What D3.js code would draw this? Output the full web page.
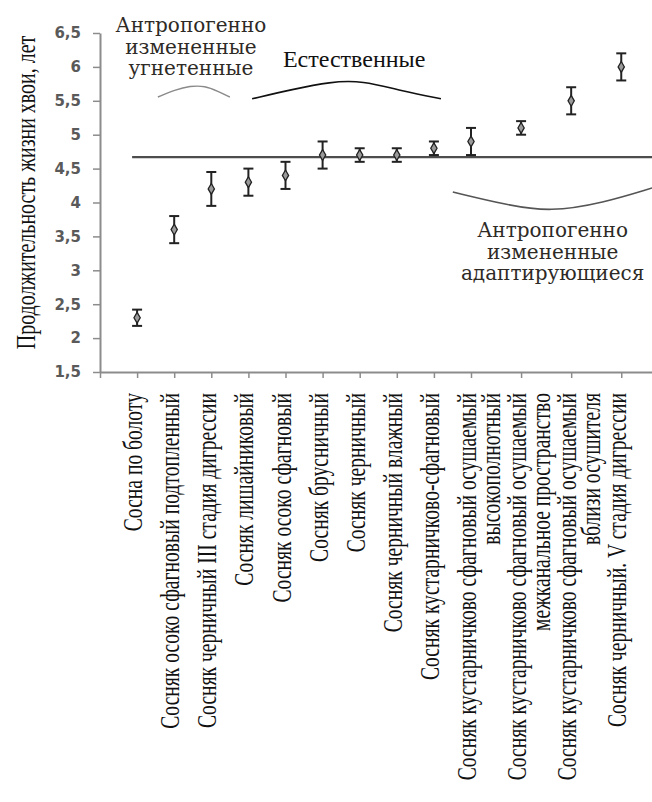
<!DOCTYPE html>
<html>
<head>
<meta charset="utf-8">
<script src="https://cdn.jsdelivr.net/npm/d3@7"></script>
<style>
  body { margin: 0; background: #fff; }
  svg { display: block; }
</style>
</head>
<body>
<div id="chart"></div>
<script>
const categories = [
  "Сосна по болоту",
  "Сосняк осоко сфагновый подтопленный",
  "Сосняк черничный III стадия дигрессии",
  "Сосняк лишайниковый",
  "Сосняк осоко сфагновый",
  "Сосняк брусничный",
  "Сосняк черничный",
  "Сосняк черничный влажный",
  "Сосняк кустарничково-сфагновый",
  "Сосняк кустарничково сфагновый осушаемый\nвысокополнотный",
  "Сосняк кустарничково сфагновый осушаемый\nмежканальное пространство",
  "Сосняк кустарничково сфагновый осушаемый\nвблизи осушителя",
  "Сосняк черничный. V стадия дигрессии",
]

const means = [2.3, 3.6, 4.2, 4.3, 4.4, 4.7, 4.7, 4.7, 4.8, 4.9, 5.1, 5.5, 6.0];
const errors = [0.12, 0.2, 0.25, 0.2, 0.2, 0.2, 0.1, 0.1, 0.1, 0.2, 0.1, 0.2, 0.2];

const refLevel = 4.67;
const yTicks = [1.5, 2, 2.5, 3, 3.5, 4, 4.5, 5, 5.5, 6, 6.5];
const yTitle = "Продолжительность жизни хвои, лет";

// group annotations, in chart units (category slot, years)
const groups = [
  {lines: ["Антропогенно", "измененные", "угнетенные"], at: [2.45, 6.51], anchor: "middle", cls: "anthro",
   brace: [[1.56, 5.556], [2.02, 5.66], [2.43, 5.72], [2.83, 5.72], [3.18, 5.64], [3.5, 5.556]], stroke: "#8a8a8a", width: 1.4},
  {lines: ["Естественные"], at: [4.93, 5.995], anchor: "start", cls: "natural",
   brace: [[4.1, 5.53], [5.2, 5.67], [6.2, 5.78], [7.06, 5.8], [8.17, 5.64], [9.19, 5.53]], stroke: "#111", width: 1.6},
  {lines: ["Антропогенно", "измененные", "адаптирующиеся"], at: [12.2, 3.49], anchor: "middle", cls: "anthro",
   brace: [[9.51, 4.155], [10.97, 3.963], [12.13, 3.86], [13.56, 3.993], [14.88, 4.214]], stroke: "#555", width: 1.6},
]

const width = 652,
      height = 802;

const margin = {left: 100, top: 33, bottom: 430};
const step = 37.1;

var svg = d3.select("#chart").append("svg")
    .attr("width", width)
    .attr("height", height);

svg.append("rect")
    .attr("width", width)
    .attr("height", height)
    .attr("fill", "#fff");

// two-line labels take a wider slot
var slotWeight = categories.map(c => c.includes("\n") ? 1.35 : 1);
var positions = [];
slotWeight.reduce((acc, w) => { positions.push(acc); return acc + w; }, 1);
var total = positions[positions.length - 1] + slotWeight[slotWeight.length - 1];

var x = d3.scaleLinear()
    .domain([0, total])
    .range([margin.left, margin.left + total * step]);

var y = d3.scaleLinear()
    .domain([1.5, 6.5])
    .range([height - margin.bottom, margin.top]);

var yAxis = svg.append("g")
    .attr("transform", `translate(${margin.left},0)`)
    .call(d3.axisLeft(y)
      .tickValues(yTicks)
      .tickSize(7)
      .tickSizeOuter(0)
      .tickPadding(12)
      .tickFormat(d => String(d).replace(".", ",")));

yAxis.select(".domain").attr("stroke", "#8c8c8c").attr("stroke-width", 2);
yAxis.selectAll(".tick line").attr("stroke", "#8c8c8c").attr("stroke-width", 1.5);
yAxis.selectAll(".tick text")
    .attr("fill", "#5a5a5a")
    .style("font-family", "'DejaVu Sans', Verdana, sans-serif")
    .style("font-weight", "bold")
    .style("font-size", "15px");

var xAxis = svg.append("g")
    .attr("transform", `translate(0,${y(1.5)})`)
    .call(d3.axisBottom(x)
      .tickValues([0].concat(positions))
      .tickSize(6)
      .tickSizeOuter(0)
      .tickFormat(""));

xAxis.select(".domain").attr("stroke", "#8c8c8c").attr("stroke-width", 2);
xAxis.selectAll(".tick line").attr("stroke", "#8c8c8c").attr("stroke-width", 1.5);

// reference level
svg.append("line")
    .attr("x1", x(positions[0]) - 5)
    .attr("x2", width)
    .attr("y1", y(refLevel))
    .attr("y2", y(refLevel))
    .attr("stroke", "#4d4d4d")
    .attr("stroke-width", 2.2);

// error bars
var points = svg.append("g")
    .selectAll("g")
    .data(means.map((m, i) => ({m: m, e: errors[i], p: positions[i]})))
  .enter().append("g")
    .attr("transform", d => `translate(${x(d.p)},0)`);

points.append("line")
    .attr("y1", d => y(d.m - d.e))
    .attr("y2", d => y(d.m + d.e))
    .attr("stroke", "#222")
    .attr("stroke-width", 2);

points.selectAll(".cap")
    .data(d => [d.m - d.e, d.m + d.e])
  .enter().append("line")
    .attr("class", "cap")
    .attr("x1", -5)
    .attr("x2", 5)
    .attr("y1", d => y(d))
    .attr("y2", d => y(d))
    .attr("stroke", "#222")
    .attr("stroke-width", 2);

points.append("path")
    .attr("transform", d => `translate(0,${y(d.m)})`)
    .attr("d", d3.symbol(d3.symbolDiamond, 34))
    .attr("fill", "#9a9a9a")
    .attr("stroke", "#222")
    .attr("stroke-width", 1.3);

// category labels, rotated and top aligned
var labels = svg.append("g")
    .selectAll("text")
    .data(categories)
  .enter().append("text")
    .attr("transform", (d, i) => `translate(${x(positions[i])},${y(1.5) + 21}) rotate(-90) scale(0.98,1.35)`)
    .attr("text-anchor", "end")
    .style("font-family", "'Liberation Serif', 'Times New Roman', serif")
    .style("font-size", "20px")
    .attr("fill", "#111");

labels.selectAll("tspan")
    .data(d => d.split("\n"))
  .enter().append("tspan")
    .attr("x", 0)
    .attr("y", (d, i) => 3.7 + i * 18);

labels.selectAll("tspan").text(d => d);

// y title
svg.append("text")
    .attr("transform", `translate(35,${(y(1.5) + y(6.5)) / 2 - 10}) rotate(-90) scale(0.95,1.35)`)
    .attr("text-anchor", "middle")
    .style("font-family", "'Liberation Serif', 'Times New Roman', serif")
    .style("font-size", "21px")
    .attr("fill", "#111")
    .text(yTitle);

// group braces and names
var line = d3.line()
    .x(d => x(d[0]))
    .y(d => y(d[1]))
    .curve(d3.curveBasis);

groups.forEach(g => {
  svg.append("path")
      .attr("d", line(g.brace))
      .attr("fill", "none")
      .attr("stroke", g.stroke)
      .attr("stroke-width", g.width);

  var t = svg.append("text")
      .attr("x", x(g.at[0]))
      .attr("y", y(g.at[1]))
      .attr("text-anchor", g.anchor)
      .attr("fill", g.cls == "natural" ? "#111" : "#2e2a26")
      .style("font-family", g.cls == "natural" ? "'Liberation Serif', serif" : "'DejaVu Serif', serif")
      .style("font-size", g.cls == "natural" ? "24px" : "20px");

  t.selectAll("tspan")
      .data(g.lines)
    .enter().append("tspan")
      .attr("x", x(g.at[0]))
      .attr("dy", (d, i) => i ? 21.5 : 0)
      .text(d => d);
});
</script>
</body>
</html>
